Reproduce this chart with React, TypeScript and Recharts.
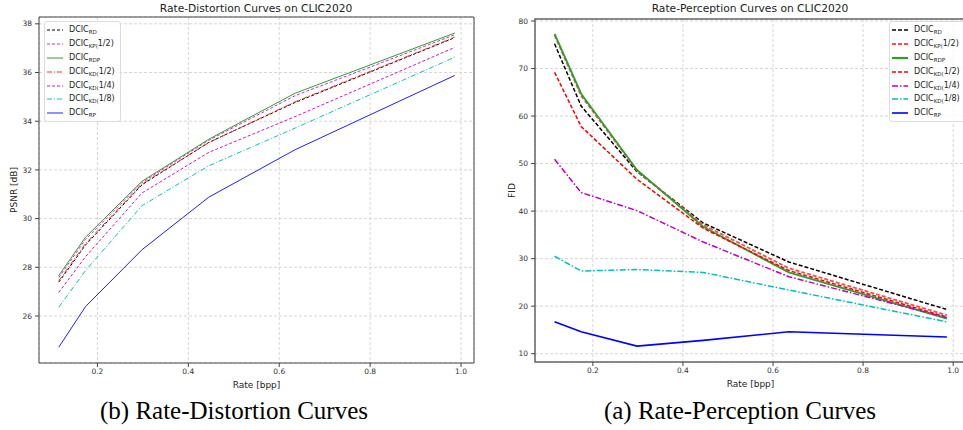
import { CartesianGrid, Legend, Line, LineChart, ReferenceArea, XAxis, YAxis } from "recharts";

// Two matplotlib-style panels side by side, each with a serif caption underneath.

const rates = [0.115, 0.174, 0.298, 0.445, 0.635, 0.986];
const rateTicks = [0.2, 0.4, 0.6, 0.8, 1.0];

const psnrRD = [27.39, 28.92, 31.39, 33.13, 34.77, 37.43];
const psnrKP12 = [27.58, 29.15, 31.48, 33.22, 35.05, 37.55];
const psnrRDP = [27.66, 29.24, 31.53, 33.26, 35.15, 37.62];
const psnrKD12 = [27.45, 28.98, 31.42, 33.12, 34.8, 37.45];
const psnrKD14 = [26.97, 28.44, 31.05, 32.72, 34.19, 37.03];
const psnrKD18 = [26.36, 27.87, 30.53, 32.17, 33.72, 36.63];
const psnrRP = [24.72, 26.39, 28.72, 30.88, 32.83, 35.88];
const psnrTicks = [26, 28, 30, 32, 34, 36, 38];

const fidRD = [75.2, 62.1, 48.3, 37.5, 29.3, 19.3];
const fidKP12 = [77.0, 64.3, 48.5, 37.1, 28.0, 18.1];
const fidRDP = [77.3, 64.7, 48.65, 36.7, 27.1, 17.4];
const fidKD12 = [69.2, 57.8, 46.7, 36.4, 27.5, 17.7];
const fidKD14 = [50.9, 43.9, 40.1, 33.5, 26.2, 17.6];
const fidKD18 = [30.5, 27.4, 27.7, 27.1, 23.4, 16.7];
const fidRP = [16.7, 14.6, 11.6, 12.8, 14.6, 13.5];
const fidTicks = [10, 20, 30, 40, 50, 60, 70, 80];

const seriesKeys = ["RD", "KP12", "RDP", "KD12", "KD14", "KD18", "RP"];
const seriesSubs = ["RD", "KP(", "RDP", "KD(", "KD(", "KD(", "RP"];
const seriesSuffix = ["", "1/2)", "", "1/2)", "1/4)", "1/8)", ""];

const rdColors = ["#000000", "#d22ad2", "#2ca02c", "#ff3030", "#c21ec2", "#10c0c0", "#2020ff"];
const rdDashes = ["3 2", "3 2", "", "5 2 1 2", "3 2", "5 2 1 2", ""];
const rpColors = ["#000000", "#ff4a4a", "#2ca02c", "#ff0000", "#c000c0", "#00bfbf", "#0000ff"];
const rpDashes = ["4 2", "4 2", "", "4 2", "6 2 1.5 2", "6 2 1.5 2", ""];
const rpWidths = [1.5, 1.8, 1.8, 1.5, 1.5, 1.5, 1.6];

const rdData = rates.map((rate, i) => ({
  rate,
  RD: psnrRD[i],
  KP12: psnrKP12[i],
  RDP: psnrRDP[i],
  KD12: psnrKD12[i],
  KD14: psnrKD14[i],
  KD18: psnrKD18[i],
  RP: psnrRP[i],
}));

const rpData = rates.map((rate, i) => ({
  rate,
  RD: fidRD[i],
  KP12: fidKP12[i],
  RDP: fidRDP[i],
  KD12: fidKD12[i],
  KD14: fidKD14[i],
  KD18: fidKD18[i],
  RP: fidRP[i],
}));

const FONT = "'DejaVu Sans', sans-serif";
const RATE_DOMAIN: [number, number] = [0.0715, 1.0285];
const PSNR_DOMAIN: [number, number] = [24.07, 38.28];
const FID_DOMAIN: [number, number] = [8.25, 80.42];

const tickStyle = { fontSize: 7.5, fill: "#333", fontFamily: FONT };

function yLabel(text: string, shift: number) {
  return (props: any) => {
    const vb = props.viewBox || { x: 0, y: 0, width: 0, height: 0 };
    const x = vb.x + shift;
    const y = vb.y + vb.height / 2;
    return (
      <text
        x={x}
        y={y}
        transform={`rotate(-90 ${x} ${y})`}
        textAnchor="middle"
        dominantBaseline="central"
        fontSize={9}
        fontFamily={FONT}
        fill="#222"
      >
        {text}
      </text>
    );
  };
}

function LegendBox({ colors, dashes, widths }: { colors: string[]; dashes: string[]; widths: number[] }) {
  return (
    <div
      style={{
        border: "1px solid #dcdcdc",
        borderRadius: 3,
        background: "rgba(255,255,255,0.85)",
        padding: "1px 5px 1px 2px",
        fontFamily: FONT,
        fontSize: 8,
        color: "#222",
        whiteSpace: "nowrap",
      }}
    >
      {seriesKeys.map((key, i) => (
        <div key={key} style={{ display: "flex", alignItems: "center", height: 13.9 }}>
          <svg width={16} height={6} style={{ flex: "none" }}>
            <line x1={0} y1={3} x2={16} y2={3} stroke={colors[i]} strokeWidth={widths[i]} strokeDasharray={dashes[i] || undefined} />
          </svg>
          <span style={{ marginLeft: 6, lineHeight: "10px" }}>
            DCIC
            <span style={{ fontSize: 5.5, position: "relative", top: 2 }}>{seriesSubs[i]}</span>
            {seriesSuffix[i]}
          </span>
        </div>
      ))}
    </div>
  );
}

function Caption({ text, center }: { text: string; center: number }) {
  return (
    <div
      style={{
        position: "absolute",
        left: center - 200,
        width: 400,
        top: 396,
        textAlign: "center",
        fontFamily: "'Liberation Serif', 'Times New Roman', serif",
        fontSize: 25,
        lineHeight: "30px",
        color: "#000",
      }}
    >
      {text}
    </div>
  );
}

function Title({ text, center }: { text: string; center: number }) {
  return (
    <div
      style={{
        position: "absolute",
        left: center - 150,
        width: 300,
        top: 2,
        textAlign: "center",
        fontFamily: FONT,
        fontSize: 10.7,
        lineHeight: "13px",
        color: "#222",
      }}
    >
      {text}
    </div>
  );
}

export default function App() {
  return (
    <div style={{ position: "absolute", left: 0, top: 0, width: 963, height: 430, overflow: "hidden", background: "#fff" }}>
      <Title text="Rate-Distortion Curves on CLIC2020" center={256} />
      <Title text="Rate-Perception Curves on CLIC2020" center={750} />

      <div style={{ position: "absolute", left: 0, top: 0 }}>
        <LineChart width={480} height={395} data={rdData} margin={{ top: 17, right: 6, bottom: 0, left: 0 }}>
          <CartesianGrid stroke="#d6d6d6" strokeDasharray="3 2" />
          <XAxis
            type="number"
            dataKey="rate"
            domain={RATE_DOMAIN}
            ticks={rateTicks}
            allowDataOverflow
            tickFormatter={(v: number) => v.toFixed(1)}
            tick={tickStyle}
            tickSize={4}
            tickMargin={2}
            axisLine={false}
            tickLine={{ stroke: "#444" }}
            height={32}
            label={{ value: "Rate [bpp]", position: "insideBottom", offset: 7, fontSize: 9, fontFamily: FONT, fill: "#222" }}
          />
          <YAxis
            type="number"
            domain={PSNR_DOMAIN}
            ticks={psnrTicks}
            allowDataOverflow
            tick={tickStyle}
            tickSize={4}
            tickMargin={3}
            axisLine={false}
            tickLine={{ stroke: "#444" }}
            width={39}
            label={yLabel("PSNR [dB]", 14)}
          />
          <ReferenceArea x1={RATE_DOMAIN[0]} x2={RATE_DOMAIN[1]} y1={PSNR_DOMAIN[0]} y2={PSNR_DOMAIN[1]} fill="none" stroke="#444" strokeWidth={1} />
          {seriesKeys.map((key, i) => (
            <Line
              key={key}
              type="linear"
              dataKey={key}
              stroke={rdColors[i]}
              strokeWidth={1}
              strokeDasharray={rdDashes[i] || undefined}
              dot={false}
              isAnimationActive={false}
            />
          ))}
          <Legend
            layout="horizontal"
            verticalAlign="middle"
            align="center"
            wrapperStyle={{ left: 44, top: 21, width: "auto", height: "auto" }}
            content={() => <LegendBox colors={rdColors} dashes={rdDashes} widths={[1, 1, 1, 1, 1, 1, 1]} />}
          />
        </LineChart>
      </div>

      <div style={{ position: "absolute", left: 496, top: 0 }}>
        <LineChart width={470} height={395} data={rpData} margin={{ top: 19, right: 0, bottom: 0, left: 0 }}>
          <CartesianGrid stroke="#d6d6d6" strokeDasharray="3 2" />
          <XAxis
            type="number"
            dataKey="rate"
            domain={RATE_DOMAIN}
            ticks={rateTicks}
            allowDataOverflow
            tickFormatter={(v: number) => v.toFixed(1)}
            tick={tickStyle}
            tickSize={4}
            tickMargin={2}
            axisLine={false}
            tickLine={{ stroke: "#444" }}
            height={33}
            label={{ value: "Rate [bpp]", position: "insideBottom", offset: 8, fontSize: 9, fontFamily: FONT, fill: "#222" }}
          />
          <YAxis
            type="number"
            domain={FID_DOMAIN}
            ticks={fidTicks}
            allowDataOverflow
            tick={tickStyle}
            tickSize={4}
            tickMargin={3}
            axisLine={false}
            tickLine={{ stroke: "#444" }}
            width={39}
            label={yLabel("FID", 16)}
          />
          <ReferenceArea x1={RATE_DOMAIN[0]} x2={RATE_DOMAIN[1]} y1={FID_DOMAIN[0]} y2={FID_DOMAIN[1]} fill="none" stroke="#666" strokeWidth={1.5} />
          {seriesKeys.map((key, i) => (
            <Line
              key={key}
              type="linear"
              dataKey={key}
              stroke={rpColors[i]}
              strokeWidth={rpWidths[i]}
              strokeDasharray={rpDashes[i] || undefined}
              dot={false}
              isAnimationActive={false}
            />
          ))}
          <Legend
            layout="horizontal"
            verticalAlign="middle"
            align="center"
            wrapperStyle={{ left: 393, top: 21, width: "auto", height: "auto" }}
            content={() => <LegendBox colors={rpColors} dashes={rpDashes} widths={[1.5, 2, 2.2, 1.5, 1.5, 1.5, 1.6]} />}
          />
        </LineChart>
      </div>

      <Caption text="(b) Rate-Distortion Curves" center={234} />
      <Caption text="(a) Rate-Perception Curves" center={740} />
    </div>
  );
}
